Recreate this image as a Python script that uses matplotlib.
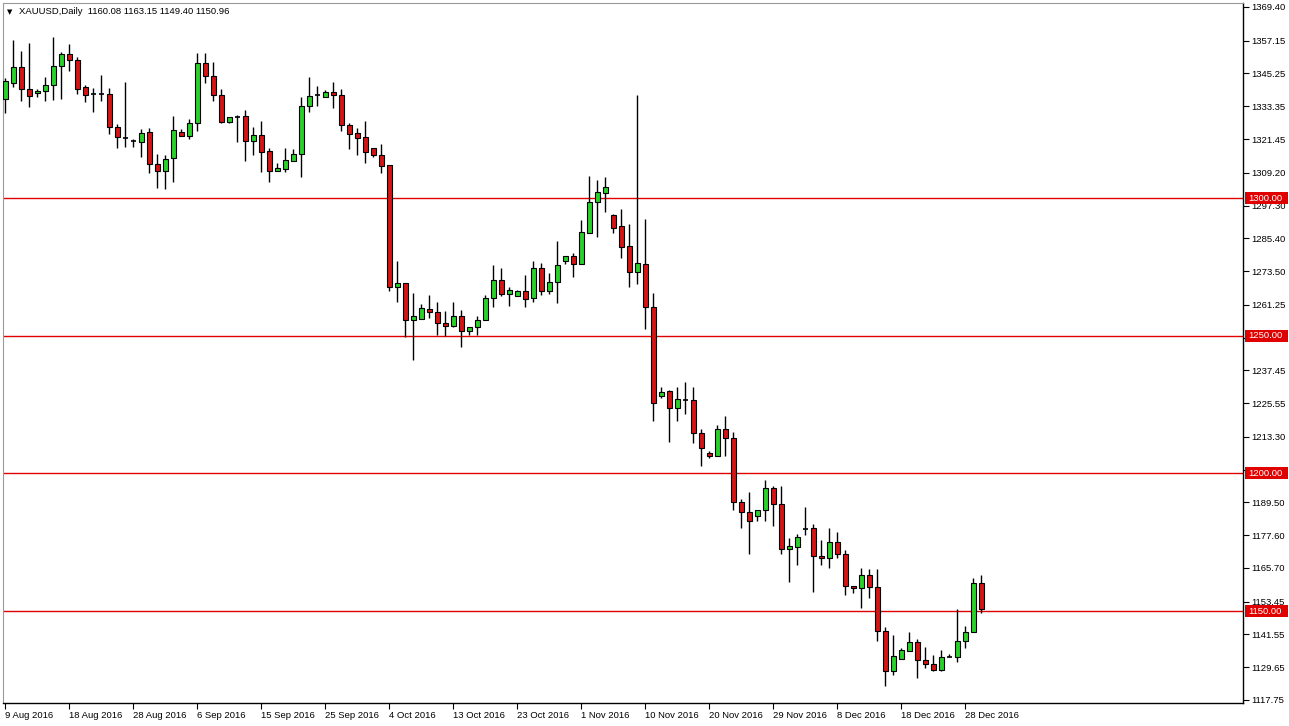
import matplotlib.pyplot as plt
from matplotlib.patches import Rectangle
import numpy as np

# ---- daily OHLC, XAUUSD, 9 Aug 2016 .. 30 Dec 2016 ----
opens = np.array([
    1335.9, 1341.8, 1347.6, 1339.6, 1338.1, 1338.8, 1341.0, 1347.8, 1352.4, 1350.2,
    1340.3, 1337.8, 1337.9, 1337.8, 1325.8, 1322.0, 1320.8, 1320.5, 1324.0, 1312.3,
    1309.7, 1314.5, 1324.0, 1322.4, 1327.2, 1349.0, 1344.4, 1337.5, 1327.8, 1329.6,
    1329.9, 1320.9, 1323.0, 1317.2, 1309.7, 1310.7, 1313.6, 1316.0, 1333.5, 1337.3,
    1336.7, 1338.5, 1337.5, 1326.6, 1323.8, 1322.3, 1318.2, 1315.7, 1312.1, 1267.9,
    1269.1, 1255.6, 1256.1, 1259.7, 1258.6, 1254.6, 1253.7, 1257.3, 1251.6, 1253.2,
    1255.6, 1263.7, 1270.3, 1265.1, 1264.6, 1266.3, 1263.7, 1274.6, 1266.4, 1269.5,
    1277.0, 1279.0, 1276.0, 1287.5, 1298.5, 1302.0, 1293.7, 1289.7, 1282.7, 1273.3,
    1276.1, 1260.6, 1228.0, 1230.0, 1223.7, 1226.8, 1226.8, 1214.7, 1207.4, 1206.2,
    1216.1, 1212.9, 1189.5, 1186.0, 1184.4, 1186.8, 1194.7, 1189.0, 1172.5, 1173.3,
    1179.9, 1180.2, 1169.9, 1169.3, 1175.1, 1170.7, 1159.3, 1158.4, 1163.0, 1158.8,
    1142.9, 1128.4, 1132.7, 1135.7, 1138.8, 1132.4, 1130.8, 1128.5, 1133.5, 1133.3,
    1139.0, 1142.4, 1160.08])
highs = np.array([
    1343.7, 1357.5, 1353.5, 1356.3, 1339.6, 1343.8, 1358.5, 1352.9, 1356.0, 1351.4,
    1341.1, 1339.9, 1344.8, 1339.9, 1326.9, 1342.3, 1321.5, 1325.1, 1325.4, 1316.0,
    1315.7, 1329.9, 1325.2, 1328.7, 1352.6, 1352.6, 1349.4, 1339.6, 1329.6, 1330.2,
    1332.1, 1326.0, 1328.1, 1318.2, 1312.7, 1318.2, 1317.8, 1336.7, 1343.9, 1340.8,
    1339.1, 1342.1, 1339.7, 1327.4, 1325.6, 1328.1, 1318.2, 1319.7, 1312.1, 1277.3,
    1269.1, 1265.5, 1261.6, 1264.9, 1262.2, 1259.1, 1262.2, 1259.4, 1253.2, 1257.3,
    1264.9, 1275.8, 1274.8, 1267.9, 1266.6, 1272.1, 1277.0, 1276.6, 1272.8, 1284.5,
    1279.0, 1280.0, 1292.1, 1308.1, 1306.6, 1307.5, 1294.2, 1296.0, 1290.7, 1337.5,
    1292.4, 1265.5, 1231.4, 1230.5, 1231.4, 1233.2, 1231.4, 1216.1, 1208.2, 1217.7,
    1220.9, 1215.0, 1190.7, 1193.2, 1186.8, 1197.7, 1195.3, 1195.3, 1176.5, 1178.1,
    1187.8, 1181.6, 1175.7, 1180.2, 1178.9, 1172.3, 1159.3, 1165.8, 1165.3, 1165.3,
    1144.4, 1141.4, 1136.6, 1142.6, 1139.9, 1136.9, 1134.2, 1136.0, 1134.4, 1150.8,
    1144.7, 1162.0, 1163.15])
lows = np.array([
    1331.0, 1340.5, 1335.4, 1333.0, 1336.7, 1335.4, 1335.7, 1335.9, 1346.0, 1337.9,
    1334.9, 1331.4, 1335.1, 1323.2, 1318.2, 1318.4, 1318.5, 1314.9, 1309.1, 1303.8,
    1303.3, 1305.7, 1322.4, 1321.5, 1324.5, 1341.8, 1335.3, 1327.4, 1327.2, 1320.3,
    1313.3, 1315.7, 1309.3, 1306.0, 1309.7, 1309.3, 1313.3, 1307.8, 1331.1, 1333.5,
    1336.7, 1332.7, 1324.4, 1317.8, 1315.7, 1312.9, 1315.1, 1309.1, 1266.1, 1262.1,
    1249.7, 1241.3, 1256.1, 1256.6, 1250.4, 1250.0, 1253.2, 1246.1, 1250.4, 1250.4,
    1255.6, 1260.4, 1264.6, 1261.0, 1264.6, 1260.3, 1262.1, 1264.9, 1265.1, 1261.9,
    1276.1, 1271.2, 1276.0, 1287.5, 1285.7, 1294.8, 1287.5, 1278.2, 1267.9, 1268.8,
    1252.5, 1218.9, 1227.4, 1211.3, 1218.9, 1221.6, 1211.0, 1202.9, 1205.6, 1206.2,
    1206.2, 1186.8, 1180.2, 1170.7, 1182.6, 1182.8, 1180.8, 1170.7, 1160.6, 1166.6,
    1177.7, 1156.8, 1166.6, 1165.6, 1169.3, 1155.9, 1156.6, 1151.1, 1154.8, 1139.0,
    1122.7, 1126.7, 1132.7, 1135.7, 1125.7, 1129.3, 1128.1, 1128.1, 1133.5, 1131.4,
    1136.6, 1142.4, 1149.40])
closes = np.array([
    1342.7, 1347.6, 1339.6, 1337.1, 1339.0, 1341.0, 1348.0, 1352.4, 1350.0, 1339.8,
    1337.4, 1337.8, 1337.9, 1326.0, 1322.1, 1322.0, 1320.8, 1323.6, 1312.3, 1309.7,
    1314.3, 1324.8, 1322.4, 1327.2, 1349.0, 1344.4, 1337.3, 1327.8, 1329.4, 1329.6,
    1320.9, 1322.9, 1316.9, 1310.0, 1310.9, 1313.9, 1316.1, 1333.5, 1337.1, 1337.3,
    1338.6, 1337.3, 1326.4, 1323.3, 1322.0, 1316.6, 1315.5, 1311.5, 1267.9, 1269.1,
    1255.6, 1257.3, 1260.1, 1258.5, 1254.6, 1253.7, 1257.3, 1251.9, 1253.2, 1255.8,
    1263.7, 1270.3, 1265.1, 1266.7, 1266.3, 1263.3, 1274.6, 1266.4, 1269.7, 1275.8,
    1279.0, 1276.0, 1287.7, 1298.7, 1302.2, 1304.0, 1289.3, 1282.4, 1273.3, 1276.6,
    1260.6, 1225.6, 1229.6, 1223.7, 1227.0, 1226.8, 1214.7, 1209.1, 1206.2, 1216.1,
    1212.9, 1189.5, 1186.0, 1182.6, 1186.8, 1194.7, 1188.9, 1172.5, 1173.5, 1176.9,
    1179.9, 1169.9, 1169.3, 1175.1, 1170.7, 1159.0, 1158.4, 1163.0, 1158.7, 1142.9,
    1128.4, 1133.6, 1136.0, 1138.8, 1132.4, 1130.8, 1128.5, 1133.3, 1133.5, 1139.3,
    1142.4, 1160.2, 1150.96])

date_labels = ['9 Aug 2016', '18 Aug 2016', '28 Aug 2016', '6 Sep 2016', '15 Sep 2016',
               '25 Sep 2016', '4 Oct 2016', '13 Oct 2016', '23 Oct 2016', '1 Nov 2016',
               '10 Nov 2016', '20 Nov 2016', '29 Nov 2016', '8 Dec 2016', '18 Dec 2016',
               '28 Dec 2016']
price_ticks = [1369.40, 1357.15, 1345.25, 1333.35, 1321.45, 1309.20, 1297.30, 1285.40,
               1273.50, 1261.25, 1249.35, 1237.45, 1225.55, 1213.30, 1201.40, 1189.50,
               1177.60, 1165.70, 1153.45, 1141.55, 1129.65, 1117.75]
levels = [1300.00, 1250.00, 1200.00, 1150.00]

BULL = '#2bd12b'
BEAR = '#d41515'
LINE_RED = '#e00000'
FONT = 'Liberation Sans'
FS = 6.8

W, H = 1289, 726
fig = plt.figure(figsize=(W / 100, H / 100), dpi=100)
fig.patch.set_facecolor('white')
ax = fig.add_axes([3 / W, 23 / H, 1240 / W, 700 / H])

ax.set_xlim(-0.29, 154.7)
ax.set_ylim(1116.66, 1370.85)

# support / resistance lines
for lv in levels:
    ax.axhline(lv, color=LINE_RED, lw=1.0, zorder=1)

# candles
idx = np.arange(len(opens))
up = closes > opens
dn = closes < opens
dj = closes == opens
ax.vlines(idx, lows, highs, color='black', lw=1.0, zorder=2)
ax.bar(idx[up], closes[up] - opens[up], bottom=opens[up], width=0.62,
       color=BULL, edgecolor='black', linewidth=0.8, zorder=3)
ax.bar(idx[dn], opens[dn] - closes[dn], bottom=closes[dn], width=0.62,
       color=BEAR, edgecolor='black', linewidth=0.8, zorder=3)
ax.hlines(opens[dj], idx[dj] - 0.34, idx[dj] + 0.34, color='black', lw=1.2, zorder=3)

# axes frame
for s in ['left', 'top']:
    ax.spines[s].set_color('#9a9a9a')
    ax.spines[s].set_linewidth(0.8)
for s in ['right', 'bottom']:
    ax.spines[s].set_color('black')
    ax.spines[s].set_linewidth(1.0)

# price axis (labels hidden behind the red level boxes are left blank)
hidden = {1249.35, 1201.40}
ax.yaxis.tick_right()
ax.set_yticks(price_ticks)
ax.set_yticklabels(['' if p in hidden else f'{p:.2f}' for p in price_ticks],
                   fontsize=FS, family=FONT)
ax.tick_params(axis='y', direction='out', length=4, width=0.8, pad=2, colors='black')

# date axis
ax.set_xticks(np.arange(len(date_labels)) * 8)
ax.set_xticklabels(date_labels, fontsize=FS, family=FONT, ha='left')
ax.tick_params(axis='x', direction='out', length=4, width=0.8, pad=2)

# red price labels for the levels, boxes run to the window edge
trans = ax.get_yaxis_transform()
box_w = (1288 - 1245) / 1240
box_h = 6 * (1370.85 - 1116.66) / 700
for lv in levels:
    ax.add_patch(Rectangle((1 + 2 / 1240, lv - box_h), box_w, 2 * box_h, transform=trans,
                           fc=LINE_RED, ec='none', clip_on=False, zorder=9))
    ax.text(1 + 5 / 1240, lv, f'{lv:.2f}', transform=trans,
            ha='left', va='center', color='white', fontsize=FS, family=FONT,
            clip_on=False, zorder=10)

# header
fig.text(7 / W, 1 - 12 / H, '\u25bc', fontsize=5, va='center', ha='left', family='DejaVu Sans')
fig.text(19 / W, 1 - 12 / H, 'XAUUSD,Daily  1160.08 1163.15 1149.40 1150.96',
         fontsize=FS, va='center', ha='left', family=FONT)

fig.savefig('out.png', dpi=100)
